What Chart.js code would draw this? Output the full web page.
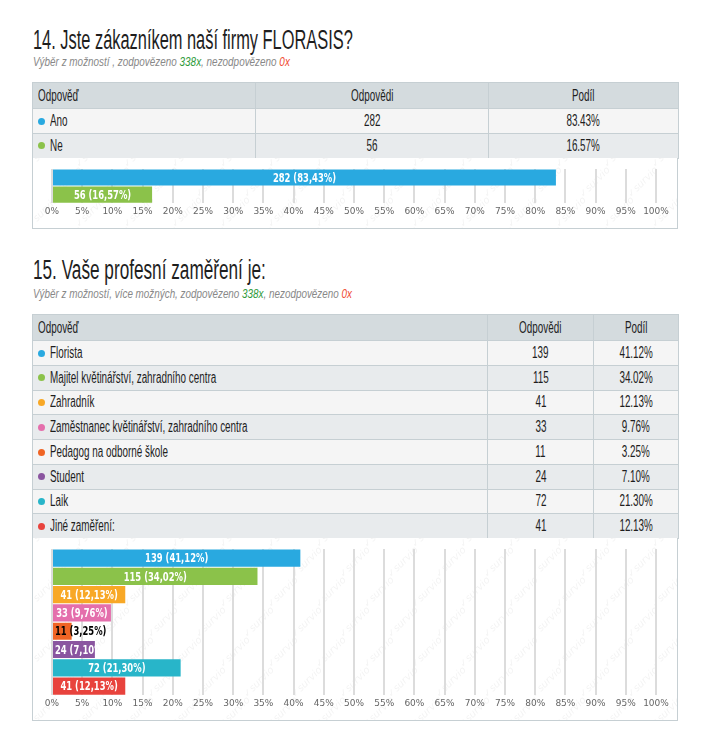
<!DOCTYPE html>
<html>
<head>
<meta charset="utf-8">
<script src="https://cdn.jsdelivr.net/npm/chart.js@4.4.0/dist/chart.umd.min.js"></script>
<style>
  body { margin: 0; background: #fff; width: 710px; height: 735px; position: relative; overflow: hidden;
         font-family: "Liberation Sans", Arial, sans-serif; color: #1e1e1e; }
  .title { position: absolute; left: 33px; font-size: 27px; line-height: 27px; white-space: nowrap; transform-origin: 0 0; }
  .sub { position: absolute; left: 33px; font-size: 13px; font-style: italic; color: #888; white-space: nowrap; transform-origin: 0 0; }
  .sub .ok { color: #2e9a3a; } .sub .no { color: #f04a32; }
  table { position: absolute; left: 32px; width: 646px; border-collapse: collapse; table-layout: fixed; font-size: 16px; }
  th, td { border: 1px solid #c6cfd3; padding: 0 5px; height: 23.75px; font-weight: normal; white-space: nowrap; }
  th { background: #d4dbde; height: 25px; text-align: center; }
  th:first-child { text-align: left; }
  td { text-align: center; }
  td:first-child { text-align: left; }
  tbody tr:nth-child(odd) td { background: #f5f5f5; }
  tbody tr:nth-child(even) td { background: #e8ebed; }
  .c { display: inline-block; transform-origin: 50% 50%; }
  th:first-child .c, td:first-child .c { transform-origin: 0 50%; }
  .dot { display: inline-block; width: 7px; height: 7px; border-radius: 50%; margin: 0 5px 1px 0; vertical-align: middle; }
  .box { position: absolute; left: 32px; width: 644px; border: 1px solid #c6cfd3; border-top: none; background: #fff; }
  canvas { display: block; }
</style>
</head>
<body>

<div class="title" id="h1" style="top:27px">14. Jste zákazníkem naší firmy FLORASIS?</div>
<div class="sub" id="s1" style="top:54px">Výběr z možností , zodpovězeno <span class="ok">338x</span>, nezodpovězeno <span class="no">0x</span></div>
<table id="t1" style="top:82px">
  <colgroup><col style="width:223px"><col style="width:233px"><col style="width:190px"></colgroup>
  <thead><tr><th><span class="c">Odpověď</span></th><th><span class="c">Odpovědi</span></th><th><span class="c">Podíl</span></th></tr></thead>
  <tbody></tbody>
</table>
<div class="box" style="top:158px;height:70px"><canvas id="c1" width="644" height="70"></canvas></div>

<div class="title" id="h2" style="top:257px">15. Vaše profesní zaměření je:</div>
<div class="sub" id="s2" style="top:286px">Výběr z možností, více možných, zodpovězeno <span class="ok">338x</span>, nezodpovězeno <span class="no">0x</span></div>
<table id="t2" style="top:314px">
  <colgroup><col style="width:455px"><col style="width:106px"><col style="width:85px"></colgroup>
  <thead><tr><th><span class="c">Odpověď</span></th><th><span class="c">Odpovědi</span></th><th><span class="c">Podíl</span></th></tr></thead>
  <tbody></tbody>
</table>
<div class="box" style="top:538px;height:182px"><canvas id="c2" width="644" height="182"></canvas></div>

<script>
// otázka 14
const answers1 = ['Ano', 'Ne'];
const counts1 = [282, 56];
const shares1 = [83.43, 16.57];
const colors1 = ['#29a9e0', '#8bc24a'];

// otázka 15
const answers2 = ['Florista', 'Majitel květinářství, zahradního centra', 'Zahradník',
  'Zaměstnanec květinářství, zahradního centra', 'Pedagog na odborné škole', 'Student', 'Laik', 'Jiné zaměření:'];
const counts2 = [139, 115, 41, 33, 11, 24, 72, 41];
const shares2 = [41.12, 34.02, 12.13, 9.76, 3.25, 7.10, 21.30, 12.13];
const colors2 = ['#29a9e0', '#8bc24a', '#f8a826', '#e46fac', '#f06424', '#8a55a0', '#28b5c9', '#e8433d'];

const tickValues = [0, 5, 10, 15, 20, 25, 30, 35, 40, 45, 50, 55, 60, 65, 70, 75, 80, 85, 90, 95, 100];

function fillTable(id, answers, counts, shares, colors) {
  const body = document.querySelector('#' + id + ' tbody');
  answers.forEach((a, i) => {
    const tr = document.createElement('tr');
    tr.innerHTML = '<td><span class="dot" style="background:' + colors[i] + '"></span><span class="c">' + a + '</span></td>' +
      '<td><span class="c">' + counts[i] + '</span></td><td><span class="c">' + shares[i].toFixed(2) + '%</span></td>';
    body.appendChild(tr);
  });
}
fillTable('t1', answers1, counts1, shares1, colors1);
fillTable('t2', answers2, counts2, shares2, colors2);

// úzké písmo jako v originále - stlačit na šířku
function squeeze(el, target) {
  el.style.transform = 'scaleX(' + (target / el.offsetWidth) + ')';
}
squeeze(document.getElementById('h1'), 320);
squeeze(document.getElementById('h2'), 233);
squeeze(document.getElementById('s1'), 257);
squeeze(document.getElementById('s2'), 319);
const probe = document.querySelectorAll('#t2 tbody tr')[1].querySelector('.c');
const k = 166 / probe.offsetWidth;
document.querySelectorAll('table .c').forEach(s => { s.style.transform = 'scaleX(' + k + ')'; });

// watermark na pozadí
const watermark = {
  id: 'watermark',
  beforeDraw(chart) {
    const ctx = chart.ctx;
    ctx.save();
    ctx.font = 'italic 10px "DejaVu Sans"';
    ctx.fillStyle = 'rgba(0,0,0,0.05)';
    for (let y = 10; y < chart.height + 40; y += 30) {
      for (let x = -10; x < chart.width + 40; x += 48) {
        ctx.save();
        ctx.translate(x + ((y / 30) % 2) * 24, y);
        ctx.rotate(-Math.PI / 4);
        ctx.fillText('✓survio', 0, 0);
        ctx.restore();
      }
    }
    ctx.restore();
  }
};

// popisky v pruzích
const barLabels = {
  id: 'barLabels',
  afterDatasetsDraw(chart) {
    const ctx = chart.ctx;
    const meta = chart.getDatasetMeta(0);
    const opts = chart.options.plugins.barLabels;
    const sx = 0.7;
    ctx.save();
    ctx.font = 'bold 12px "DejaVu Sans"';
    ctx.textBaseline = 'middle';
    meta.data.forEach((bar, i) => {
      const txt = opts.counts[i] + ' (' + opts.shares[i].toFixed(2).replace('.', ',') + '%)';
      const w = ctx.measureText(txt).width * sx;
      const left = bar.base, right = bar.x;
      ctx.save();
      if (w + 4 < right - left) {
        ctx.fillStyle = '#fff';
        ctx.textAlign = 'center';
        ctx.translate((left + right) / 2, bar.y + 1);
      } else if (right - left < 30) {
        ctx.fillStyle = '#000';
        ctx.textAlign = 'left';
        ctx.translate(left + 2, bar.y + 1);
      } else {
        ctx.beginPath();
        ctx.rect(left, bar.y - 10, right - left + 6, 20);
        ctx.clip();
        ctx.fillStyle = '#fff';
        ctx.textAlign = 'left';
        ctx.translate(left + 2, bar.y + 1);
      }
      ctx.scale(sx, 1);
      ctx.fillText(txt, 0, 0);
      ctx.restore();
    });
    ctx.restore();
  }
};

function makeChart(id, answers, counts, shares, colors) {
  new Chart(document.getElementById(id), {
    type: 'bar',
    data: {
      labels: answers,
      datasets: [{
        data: shares,
        backgroundColor: colors,
        borderWidth: 0,
        barPercentage: 0.94,
        categoryPercentage: 1
      }]
    },
    options: {
      indexAxis: 'y',
      responsive: false,
      animation: false,
      layout: { padding: { left: 19, right: 21, top: 11, bottom: 8 } },
      plugins: {
        legend: { display: false },
        tooltip: { enabled: false },
        barLabels: { counts: counts, shares: shares }
      },
      scales: {
        x: {
          min: 0, max: 100,
          afterBuildTicks: axis => { axis.ticks = tickValues.map(v => ({ value: v })); },
          ticks: {
            autoSkip: false, maxRotation: 0, padding: 3,
            color: '#666', font: { family: 'DejaVu Sans', size: 9 },
            callback: v => v + '%'
          },
          grid: { color: '#dcdcdc', lineWidth: 2, drawTicks: false },
          border: { display: false }
        },
        y: { display: false }
      }
    },
    plugins: [watermark, barLabels]
  });
}
makeChart('c1', answers1, counts1, shares1, colors1);
makeChart('c2', answers2, counts2, shares2, colors2);
</script>
</body>
</html>
